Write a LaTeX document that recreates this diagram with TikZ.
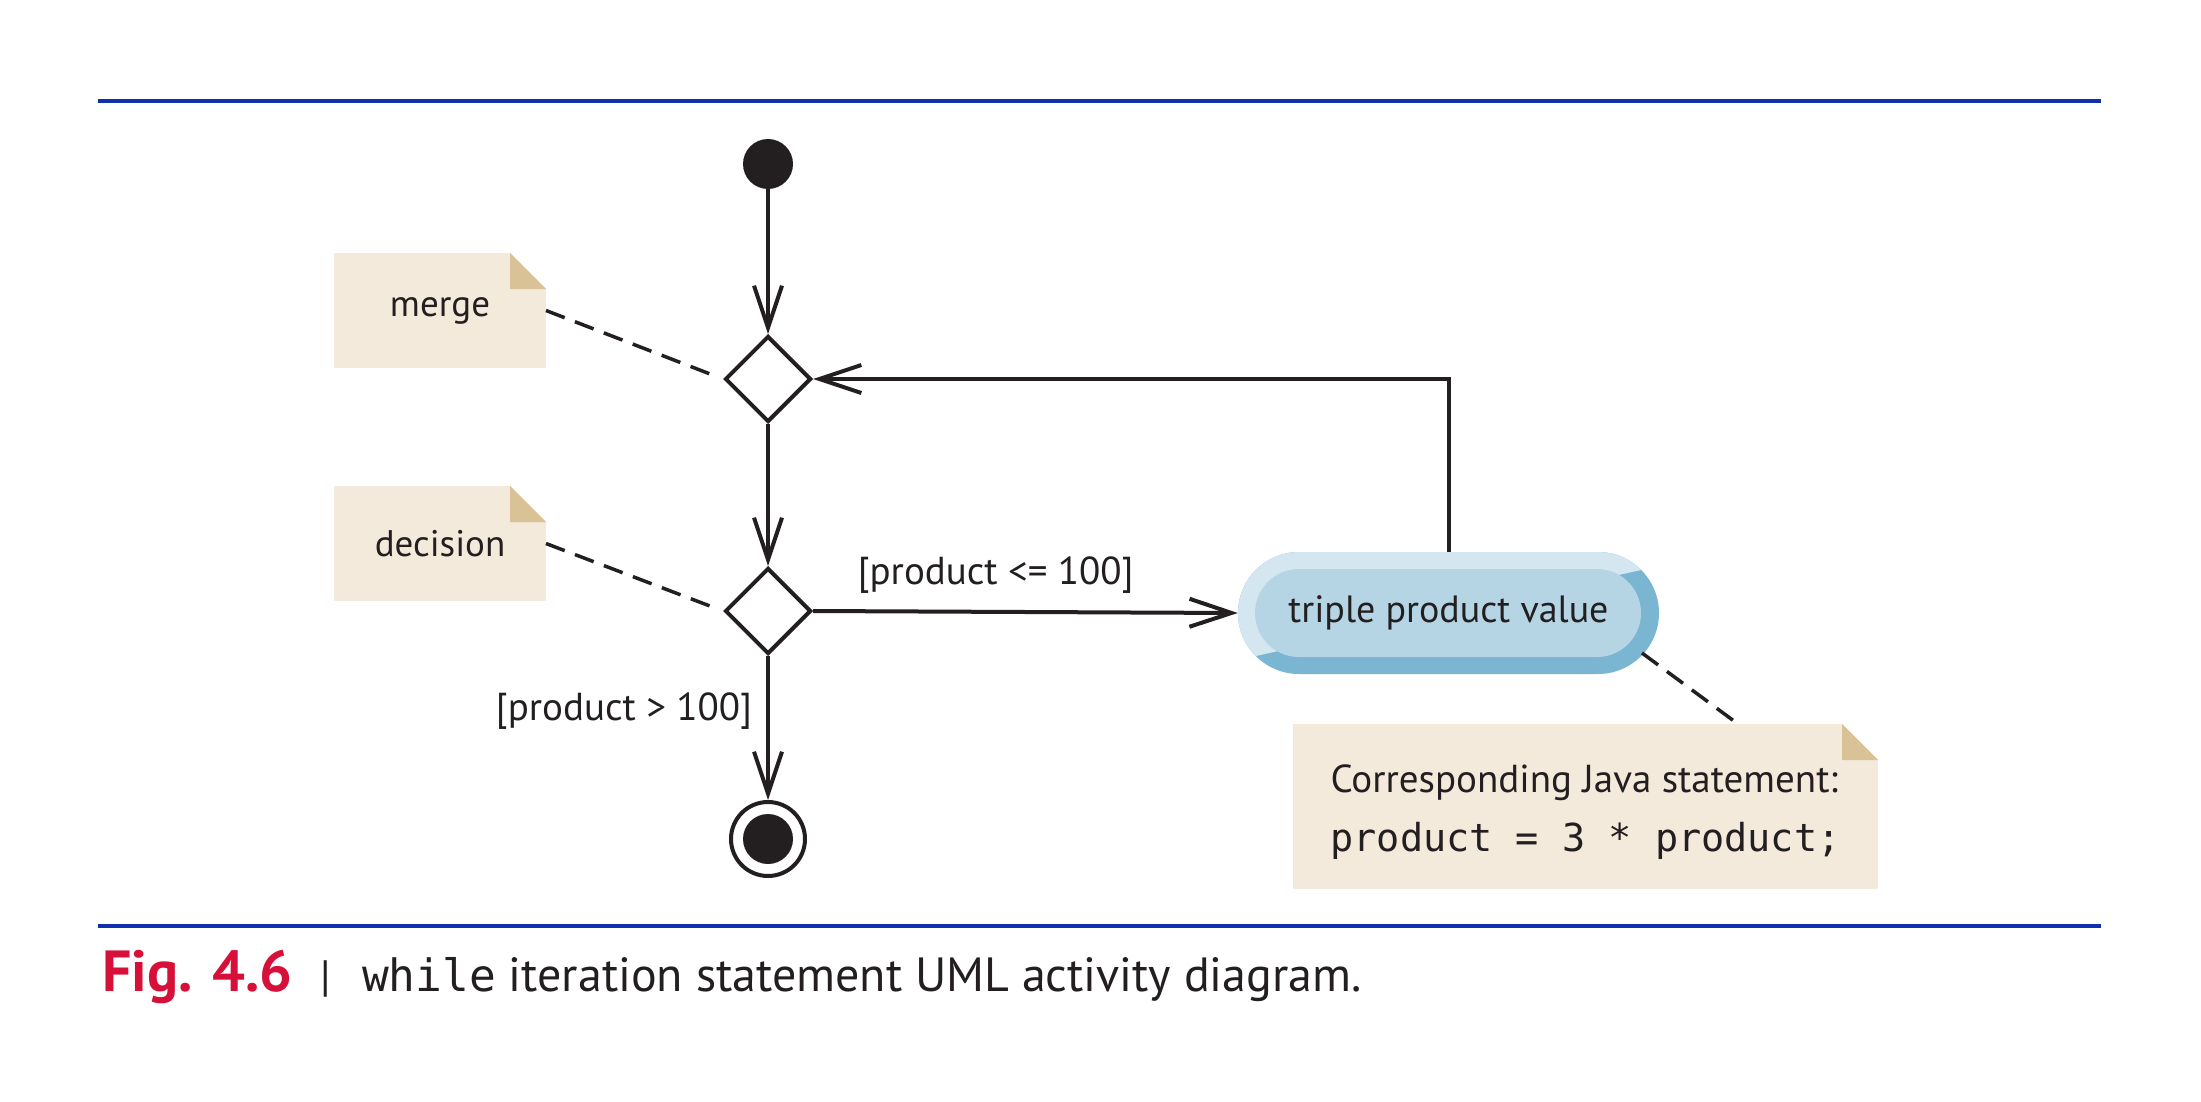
\documentclass[tikz,border=0pt]{standalone}
\usepackage{fontspec}
\setmainfont{PT Sans}
\setmonofont{DejaVu Sans Mono}
\usetikzlibrary{arrows.meta,shapes.geometric}
\definecolor{ink}{RGB}{35,31,32}
\definecolor{ruleblue}{RGB}{16,48,176}
\definecolor{figred}{RGB}{214,16,56}
\definecolor{notefill}{RGB}{243,234,219}
\definecolor{notefold}{RGB}{217,194,149}
\definecolor{actlight}{RGB}{212,230,240}
\definecolor{actmid}{RGB}{181,213,229}
\definecolor{actdark}{RGB}{122,181,209}
\tikzset{
  flow/.style={draw=ink, line width=4pt, -{Straight Barb[length=42pt,width=28pt,line width=4pt]}},
  noteline/.style={draw=ink, line width=3.5pt, dash pattern=on 20pt off 11pt},
  notebox/.style={fill=notefill, inner sep=0pt, outer sep=0pt, font=\fontsize{37}{44}\selectfont, text=ink},
  decbox/.style={diamond, draw=ink, fill=white, line width=4pt, inner sep=0pt, minimum width=86pt, minimum height=86pt},
  guard/.style={font=\fontsize{39}{46}\selectfont, text=ink, inner sep=0pt},
  rulebar/.style={draw=ruleblue, line width=4pt}
}
\begin{document}
\begin{tikzpicture}[x=1pt,y=-1pt]
\useasboundingbox (0,0) rectangle (2201,1102);
\fill[white] (0,0) rectangle (2201,1102);
% rules
\coordinate (r1a) at (98,101); \coordinate (r1b) at (2101,101);
\coordinate (r2a) at (98,926); \coordinate (r2b) at (2101,926);
\draw[rulebar] (r1a) -- (r1b);
\draw[rulebar] (r2a) -- (r2b);
% notes
\node[notebox, minimum width=212pt, minimum height=115pt] (mnote) at (440,310.5) {merge};
\node[notebox, minimum width=212pt, minimum height=115pt] (dnote) at (440,543.5) {decision};
\node[notebox, minimum width=585pt, minimum height=165pt, align=left, font=\fontsize{39}{47}\selectfont] (jnote) at (1585.5,806.5)
  {\rule{0pt}{38pt}Corresponding Java statement:\\[12pt]{\fontsize{38.5}{47}\selectfont\ttfamily product = 3 * product;}};
\foreach \n in {mnote,dnote,jnote}{
  \fill[white] ([xshift=-36pt]\n.north east) -- (\n.north east) -- ([yshift=-36pt]\n.north east) -- cycle;
  \fill[notefold] ([xshift=-36pt]\n.north east) -- ([xshift=-36pt,yshift=-36pt]\n.north east) -- ([yshift=-36pt]\n.north east) -- cycle;
}
% activity
\fill[actdark, rounded corners=61pt] (1238,552) rectangle (1659,674);
\begin{scope}
  \clip[rounded corners=61pt] (1238,552) rectangle (1659,674);
  \fill[actlight] (871,742) -- (2026,484) -- (2026,400) -- (871,400) -- cycle;
\end{scope}
\fill[actmid, rounded corners=44pt] (1255,569) rectangle (1641,657);
\node[inner sep=0pt, minimum width=421pt, minimum height=122pt, font=\fontsize{38}{44}\selectfont, text=ink] (act) at (1448.5,613) {triple product value};
% control nodes
\node[circle, fill=ink, minimum size=50pt, inner sep=0pt] (start) at (768,164) {};
\node[decbox] (merge) at (768,379) {};
\node[decbox] (dec) at (768,611) {};
\node[circle, draw=ink, line width=4pt, fill=white, minimum size=74pt, inner sep=0pt] (end) at (768,839) {};
\node[circle, fill=ink, minimum size=50pt, inner sep=0pt] (endin) at (end.center) {};
% flows
\draw[flow] (start) -- (merge.north);
\draw[flow] (merge.south) -- (dec.north);
\draw[flow] (dec.south) -- (end.north) node[guard, pos=0.38, anchor=east, xshift=-14pt] {[product > 100]};
\draw[flow] (dec.east) -- (act.west) node[guard, pos=0.43, anchor=south, yshift=16pt] {[product <= 100]};
\draw[flow] (act.north) |- (merge.east);
% note links
\coordinate (actse) at (1642,653);
\coordinate (jtop) at (1738,724);
\draw[noteline, shorten >=8pt] (mnote.east) -- (merge.west);
\draw[noteline, shorten >=8pt] (dnote.east) -- (dec.west);
\draw[noteline] (actse) -- (jtop);
% caption
\node[anchor=base west, inner sep=0pt, text=figred, font=\fontsize{58}{64}\selectfont\bfseries] (fig) at (102,991) {Fig. 4.6};
\node[anchor=base, inner sep=0pt, text=ink, font=\fontsize{44}{52}\selectfont] (bar) at (326,991) {|};
\node[anchor=base west, inner sep=0pt, text=ink, font=\fontsize{48}{56}\selectfont] (cap) at (362,991) {{\fontsize{44.5}{52}\selectfont\ttfamily while} iteration statement UML activity diagram.};
\end{tikzpicture}
\end{document}
